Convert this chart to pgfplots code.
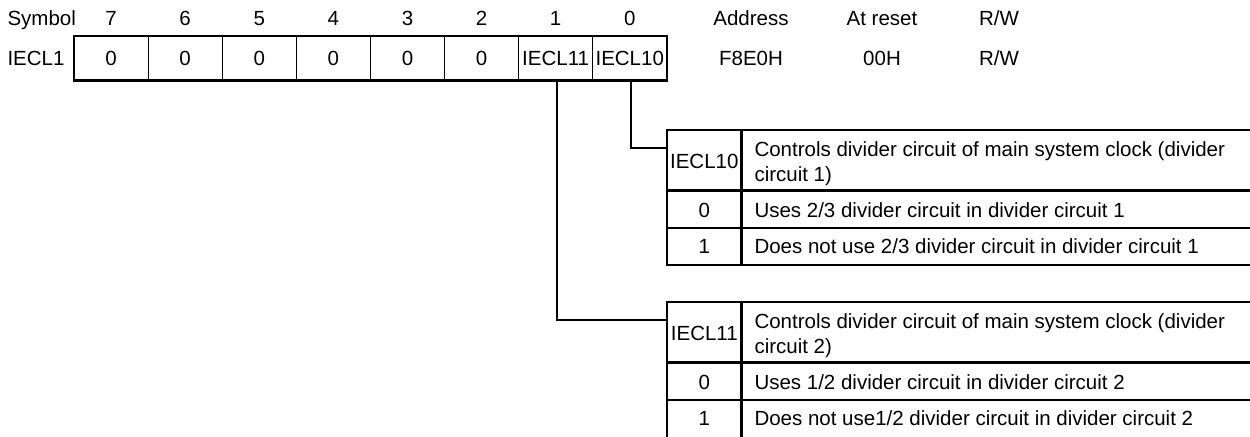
\documentclass[border=0pt]{standalone}
\usepackage{fontspec}
\setmainfont{Liberation Sans}
\usepackage{pgfplots}
\pgfplotsset{compat=1.18}
\definecolor{thin}{gray}{0.5}
\tikzset{
  txt/.style={font=\fontsize{8.2pt}{9.8pt}\selectfont, inner sep=0pt, anchor=base},
  txl/.style={font=\fontsize{8.2pt}{9.8pt}\selectfont, inner sep=0pt, anchor=base west},
  thk/.style={black, line width=1pt},
  thn/.style={thin, line width=0.45pt}}
\begin{document}
\begin{tikzpicture}
\begin{axis}[name=ax, scale only axis, width=500pt, height=174.4pt,
  xmin=0, xmax=1250, ymin=0, ymax=436, y dir=reverse, hide axis, clip=false]

% header row
\node[txl] at (axis cs:7,25) {Symbol};
\node[txt] at (axis cs:111.05,25) {7};
\node[txt] at (axis cs:185.15,25) {6};
\node[txt] at (axis cs:259.25,25) {5};
\node[txt] at (axis cs:333.35,25) {4};
\node[txt] at (axis cs:407.45,25) {3};
\node[txt] at (axis cs:481.55,25) {2};
\node[txt] at (axis cs:555.65,25) {1};
\node[txt] at (axis cs:629.75,25) {0};
\node[txt] at (axis cs:751,25) {Address};
\node[txt] at (axis cs:882,25) {At reset};
\node[txt] at (axis cs:999,25) {R/W};

% register row
\node[txl] at (axis cs:7,65.5) {IECL1};
\addplot[thn, no marks] coordinates {(148.1,36) (148.1,80.5)};
\addplot[thn, no marks] coordinates {(222.2,36) (222.2,80.5)};
\addplot[thn, no marks] coordinates {(296.3,36) (296.3,80.5)};
\addplot[thn, no marks] coordinates {(370.4,36) (370.4,80.5)};
\addplot[thn, no marks] coordinates {(444.5,36) (444.5,80.5)};
\addplot[thn, no marks] coordinates {(518.6,36) (518.6,80.5)};
\addplot[thn, no marks] coordinates {(592.7,36) (592.7,80.5)};
\draw[thk] (axis cs:74,36) rectangle (axis cs:666.8,80.5);
\node[txt] at (axis cs:111.05,65.5) {0};
\node[txt] at (axis cs:185.15,65.5) {0};
\node[txt] at (axis cs:259.25,65.5) {0};
\node[txt] at (axis cs:333.35,65.5) {0};
\node[txt] at (axis cs:407.45,65.5) {0};
\node[txt] at (axis cs:481.55,65.5) {0};
\node[txt] at (axis cs:555.65,65.5) {IECL11};
\node[txt] at (axis cs:629.75,65.5) {IECL10};
\node[txt] at (axis cs:751,65.5) {F8E0H};
\node[txt] at (axis cs:882,65.5) {00H};
\node[txt] at (axis cs:999,65.5) {R/W};

% connectors
\addplot[thn, no marks] coordinates {(631,80.5) (631,148) (667,148)};
\addplot[thn, no marks] coordinates {(557,80.5) (557,320) (667,320)};

% table 1 (IECL10)
\addplot[thn, no marks] coordinates {(667,228) (1260,228)};
\addplot[thk, no marks] coordinates {(1260,130) (667,130) (667,265) (1260,265)};
\addplot[thk, no marks] coordinates {(667,190.7) (1260,190.7)};
\addplot[thk, no marks] coordinates {(741.7,130) (741.7,265)};
\node[txt] at (axis cs:704.3,168.5) {IECL10};
\node[txl] at (axis cs:754,156.5) {Controls divider circuit of main system clock (divider};
\node[txl] at (axis cs:754,181) {circuit 1)};
\node[txt] at (axis cs:704.3,217.5) {0};
\node[txl] at (axis cs:754,217.5) {Uses 2/3 divider circuit in divider circuit 1};
\node[txt] at (axis cs:704.3,253.5) {1};
\node[txl] at (axis cs:754,253.5) {Does not use 2/3 divider circuit in divider circuit 1};

% table 2 (IECL11)
\addplot[thn, no marks] coordinates {(667,400) (1260,400)};
\addplot[thk, no marks] coordinates {(1260,302) (667,302) (667,445)};
\addplot[thk, no marks] coordinates {(667,362.7) (1260,362.7)};
\addplot[thk, no marks] coordinates {(741.7,302) (741.7,445)};
\node[txt] at (axis cs:704.3,340.5) {IECL11};
\node[txl] at (axis cs:754,328.5) {Controls divider circuit of main system clock (divider};
\node[txl] at (axis cs:754,353) {circuit 2)};
\node[txt] at (axis cs:704.3,389.5) {0};
\node[txl] at (axis cs:754,389.5) {Uses 1/2 divider circuit in divider circuit 2};
\node[txt] at (axis cs:704.3,425.5) {1};
\node[txl] at (axis cs:754,425.5) {Does not use1/2 divider circuit in divider circuit 2};
\end{axis}
\pgfresetboundingbox
\path (ax.south west) rectangle (ax.north east);
\end{tikzpicture}
\end{document}
